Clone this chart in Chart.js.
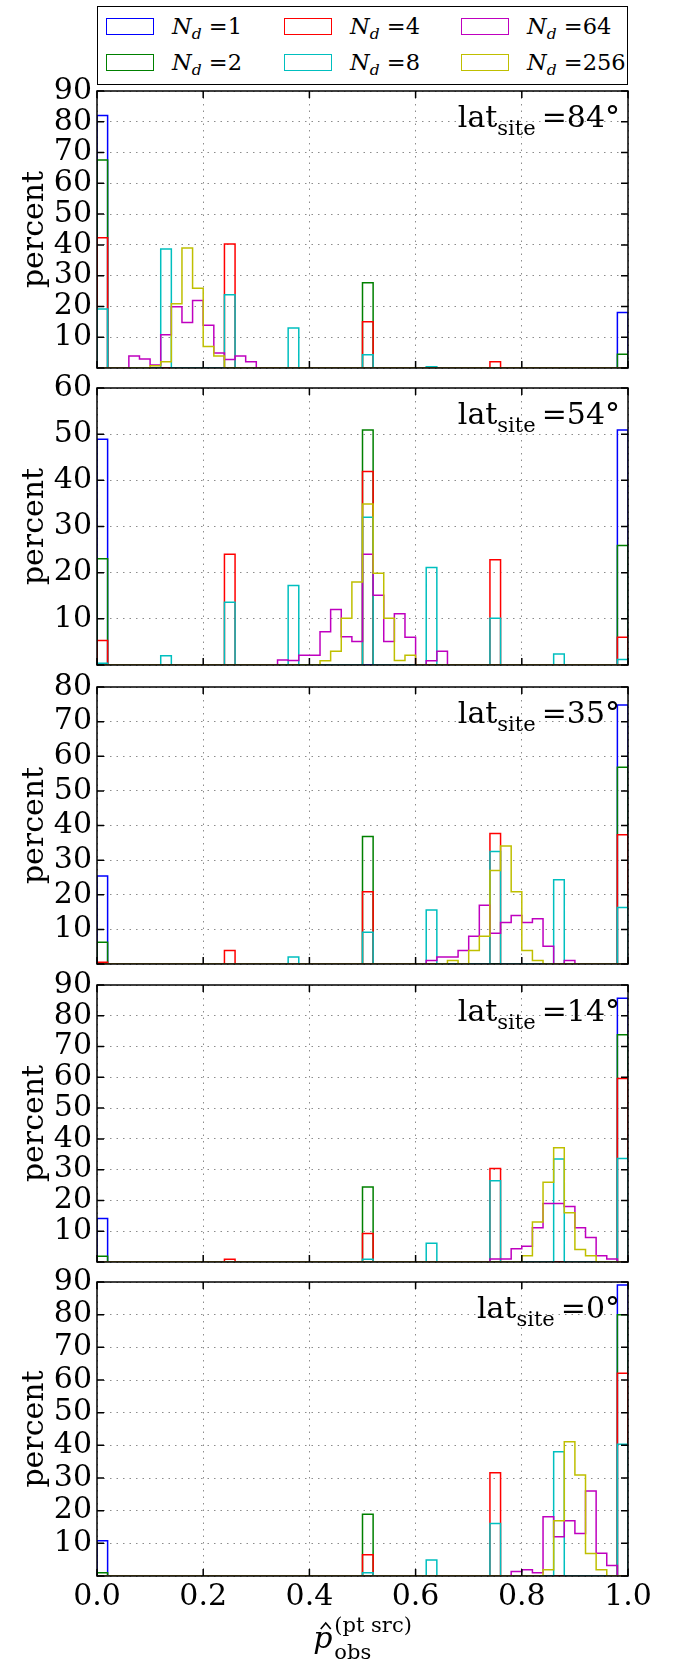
<!DOCTYPE html>
<html>
<head>
<meta charset="utf-8">
<title>p_obs histograms by site latitude</title>
<script src="https://cdn.jsdelivr.net/npm/chart.js@4.4.1/dist/chart.umd.min.js"></script>
<style>
  html, body { margin: 0; padding: 0; background: #fff; }
  body { position: relative; width: 684px; height: 1666px; overflow: hidden; font-family: 'DejaVu Serif', serif; color: #000; }
  canvas { position: absolute; left: 0; }
  #legend { position: absolute; left: 97px; top: 6px; width: 531px; height: 79px; border: 1.5px solid #000; box-sizing: border-box; }
  .swatch { position: absolute; width: 48px; height: 17px; border: 1.5px solid; box-sizing: border-box; }
  .item { position: absolute; font-size: 22.5px; line-height: 26px; white-space: nowrap; }
  .item sub { font-size: 15.5px; font-style: italic; line-height: 0; vertical-align: -5px; }
</style>
</head>
<body>
<div id="legend"></div>
<script>
    // histogram bins: 50 bins of width 0.02 on [0, 1]
    var binWidth = 0.02;
    var nBins = 50;

    var ndValues = [1, 2, 4, 8, 64, 256];
    var lineColors = ['#0000ff', '#008000', '#ff0000', '#00bfbf', '#bf00bf', '#bfbf00'];
    var latitudes = [84, 54, 35, 14, 0];
    var yMaxes = [90, 60, 80, 90, 90];

    // [bin left edge, percent] for the non-empty bins, one list per N_d
    var hist84 = [
        [[0.00, 82.0], [0.98, 18.0]],
        [[0.00, 67.6], [0.50, 27.7], [0.98, 4.5]],
        [[0.00, 42.3], [0.24, 40.3], [0.50, 15.0], [0.74, 2.0]],
        [[0.00, 19.2], [0.12, 38.7], [0.24, 23.8], [0.36, 13.0], [0.50, 4.3], [0.62, 0.4]],
        [[0.06, 3.9], [0.08, 2.9], [0.10, 1.0], [0.12, 10.8], [0.14, 19.9], [0.16, 14.8], [0.18, 21.9],
         [0.20, 13.9], [0.22, 4.9], [0.24, 2.8], [0.26, 3.9], [0.28, 2.0]],
        [[0.10, 0.7], [0.12, 2.0], [0.14, 20.9], [0.16, 39.0], [0.18, 25.9], [0.20, 7.0], [0.22, 3.9]]
    ];
    var hist54 = [
        [[0.00, 48.9], [0.98, 50.9]],
        [[0.00, 23.0], [0.50, 50.9], [0.98, 25.9]],
        [[0.00, 5.3], [0.24, 24.0], [0.50, 41.9], [0.74, 22.8], [0.98, 6.0]],
        [[0.00, 0.4], [0.12, 2.0], [0.24, 13.6], [0.36, 17.2], [0.50, 32.0], [0.62, 21.1], [0.74, 10.1],
         [0.86, 2.4], [0.98, 1.2]],
        [[0.34, 1.1], [0.36, 1.0], [0.38, 2.1], [0.40, 2.1], [0.42, 7.2], [0.44, 12.0], [0.46, 6.1],
         [0.48, 5.1], [0.50, 24.0], [0.52, 15.1], [0.54, 5.1], [0.56, 11.1], [0.58, 6.0], [0.62, 0.9],
         [0.64, 3.0]],
        [[0.42, 0.9], [0.44, 3.0], [0.46, 10.1], [0.48, 18.0], [0.50, 34.9], [0.52, 19.9], [0.54, 10.1],
         [0.56, 1.0], [0.58, 2.1]]
    ];
    var hist35 = [
        [[0.00, 25.4], [0.98, 74.8]],
        [[0.00, 6.3], [0.50, 36.8], [0.98, 56.8]],
        [[0.00, 0.5], [0.24, 3.9], [0.50, 20.9], [0.74, 37.7], [0.98, 37.3]],
        [[0.36, 2.0], [0.50, 9.2], [0.62, 15.6], [0.74, 32.5], [0.86, 24.3], [0.98, 16.3]],
        [[0.62, 1.0], [0.64, 2.0], [0.66, 2.0], [0.68, 3.9], [0.70, 8.0], [0.72, 17.0], [0.74, 8.9],
         [0.76, 12.0], [0.78, 14.0], [0.80, 12.0], [0.82, 13.1], [0.84, 5.1], [0.88, 1.0]],
        [[0.66, 1.0], [0.70, 3.9], [0.72, 8.0], [0.74, 27.0], [0.76, 34.1], [0.78, 20.9], [0.80, 3.9],
         [0.82, 1.0]]
    ];
    var hist14 = [
        [[0.00, 14.1], [0.98, 85.7]],
        [[0.00, 1.9], [0.50, 24.4], [0.98, 73.8]],
        [[0.24, 0.9], [0.50, 9.3], [0.74, 30.4], [0.98, 59.6]],
        [[0.50, 0.9], [0.62, 6.1], [0.74, 26.4], [0.86, 33.5], [0.98, 33.6]],
        [[0.74, 1.0], [0.76, 1.0], [0.78, 4.3], [0.80, 5.1], [0.82, 11.1], [0.84, 19.0], [0.86, 19.0],
         [0.88, 18.0], [0.90, 11.1], [0.92, 8.0], [0.94, 2.0], [0.96, 1.0]],
        [[0.80, 2.0], [0.82, 13.0], [0.84, 25.9], [0.86, 37.1], [0.88, 16.0], [0.90, 4.1], [0.92, 2.0]]
    ];
    var hist0 = [
        [[0.00, 10.8], [0.98, 89.1]],
        [[0.00, 1.0], [0.50, 18.9], [0.98, 80.0]],
        [[0.50, 6.5], [0.74, 31.6], [0.98, 62.1]],
        [[0.50, 1.0], [0.62, 4.9], [0.74, 16.1], [0.86, 38.0], [0.98, 40.3]],
        [[0.78, 1.4], [0.80, 1.9], [0.82, 1.0], [0.84, 18.1], [0.86, 12.0], [0.88, 16.9], [0.90, 13.0],
         [0.92, 26.0], [0.94, 7.0], [0.96, 3.2]],
        [[0.84, 1.9], [0.86, 16.9], [0.88, 41.1], [0.90, 30.9], [0.92, 6.9], [0.94, 1.9]]
    ];
    var panels = [hist84, hist54, hist35, hist14, hist0];

    // layout (page pixels)
    var panelTops = [91, 388, 687, 985, 1282];
    var panelHeight = 294;
    var padTop = 30;
    var serif = "'DejaVu Serif', serif";

    // legend, column by column like matplotlib
    var legendCols = [105, 283, 460];
    var legendRows = [25, 61];
    var legend = document.getElementById('legend');
    ndValues.forEach(function (nd, i) {
        var col = Math.floor(i / 2), row = i % 2;
        var sw = document.createElement('div');
        sw.className = 'swatch';
        sw.style.borderColor = lineColors[i];
        sw.style.left = (legendCols[col] - 97) + 'px';
        sw.style.top = (legendRows[row] - 8.5 - 6) + 'px';
        legend.appendChild(sw);
        var txt = document.createElement('div');
        txt.className = 'item';
        txt.innerHTML = '<i>N</i><sub>d</sub> =' + nd;
        txt.style.left = (legendCols[col] + 66 - 97) + 'px';
        txt.style.top = (legendRows[row] - 13 - 6) + 'px';
        legend.appendChild(txt);
    });

    function stepPoints(pairs) {
        var counts = [];
        for (var k = 0; k < nBins; k++) counts.push(0);
        pairs.forEach(function (p) { counts[Math.round(p[0] / binWidth)] = p[1]; });
        var pts = [{x: 0, y: 0}];
        counts.forEach(function (c, k) { pts.push({x: k * binWidth, y: c}); });
        pts.push({x: 1, y: 0});
        return pts;
    }

    // frame and inward ticks on all four sides
    var framePlugin = {
        id: 'frame',
        afterDatasetsDraw: function (chart) {
            var ctx = chart.ctx, a = chart.chartArea;
            var xs = chart.scales.x, ys = chart.scales.y;
            ctx.save();
            ctx.strokeStyle = '#000';
            ctx.lineWidth = 1.5;
            ctx.beginPath();
            ys.ticks.forEach(function (t) {
                var py = ys.getPixelForValue(t.value);
                ctx.moveTo(a.left, py); ctx.lineTo(a.left + 7, py);
                ctx.moveTo(a.right, py); ctx.lineTo(a.right - 7, py);
            });
            xs.ticks.forEach(function (t) {
                var px = xs.getPixelForValue(t.value);
                ctx.moveTo(px, a.bottom); ctx.lineTo(px, a.bottom - 7);
                ctx.moveTo(px, a.top); ctx.lineTo(px, a.top + 7);
            });
            ctx.stroke();
            ctx.strokeRect(a.left, a.top, a.right - a.left, a.bottom - a.top);
            ctx.restore();
        }
    };

    // "lat_site = NN°" in the upper right corner
    var latPlugin = {
        id: 'latLabel',
        afterDraw: function (chart, args, opts) {
            var ctx = chart.ctx, a = chart.chartArea;
            var big = '30px ' + serif, small = '21px ' + serif;
            var val = '=' + opts.lat + '\u00b0';
            ctx.save();
            ctx.fillStyle = '#000';
            ctx.textBaseline = 'alphabetic';
            ctx.textAlign = 'left';
            ctx.font = big;
            var wLat = ctx.measureText('lat').width, wVal = ctx.measureText(val).width;
            ctx.font = small;
            var wSite = ctx.measureText('site').width;
            var gap = 6;
            var x = a.right - 8 - (wLat + wSite + gap + wVal);
            var base = a.top + 36;
            ctx.font = big; ctx.fillText('lat', x, base); x += wLat;
            ctx.font = small; ctx.fillText('site', x, base + 8); x += wSite + gap;
            ctx.font = big; ctx.fillText(val, x, base);
            ctx.restore();
        }
    };

    // x axis title p-hat with (pt src) superscript and obs subscript
    var xTitlePlugin = {
        id: 'xTitle',
        afterDraw: function (chart, args, opts) {
            if (!opts.show) return;
            var ctx = chart.ctx, a = chart.chartArea;
            ctx.save();
            ctx.fillStyle = '#000';
            ctx.strokeStyle = '#000';
            ctx.textBaseline = 'alphabetic';
            ctx.font = 'italic 30px ' + serif;
            var wp = ctx.measureText('p').width;
            ctx.font = '21px ' + serif;
            var wSup = ctx.measureText('(pt src)').width;
            var x0 = (a.left + a.right) / 2 - (wp + 2 + wSup) / 2;
            var base = a.bottom + 72;
            ctx.font = 'italic 30px ' + serif;
            ctx.textAlign = 'left';
            ctx.fillText('p', x0, base);
            // hat accent
            var hx = x0 + wp / 2 + 3;
            ctx.lineWidth = 1.6;
            ctx.beginPath();
            ctx.moveTo(hx - 5, base - 19);
            ctx.lineTo(hx, base - 25);
            ctx.lineTo(hx + 5, base - 19);
            ctx.stroke();
            ctx.font = '21px ' + serif;
            ctx.fillText('(pt src)', x0 + wp + 2, base - 16);
            ctx.fillText('obs', x0 + wp + 2, base + 11);
            ctx.restore();
        }
    };

    panels.forEach(function (hist, i) {
        var last = i === panels.length - 1;
        var canvas = document.createElement('canvas');
        var top = panelTops[i] - padTop;
        canvas.width = 684;
        canvas.height = last ? 1666 - top : padTop + panelHeight + 6;
        canvas.style.top = top + 'px';
        document.body.appendChild(canvas);

        var tickFont = {family: serif, size: 30, lineHeight: 1.2};
        var config = {
            type: 'line',
            data: {
                datasets: ndValues.map(function (nd, s) {
                    return {
                        label: 'N_d = ' + nd,
                        data: stepPoints(hist[s]),
                        borderColor: lineColors[s],
                        borderWidth: 1.5,
                        pointRadius: 0,
                        fill: false,
                        stepped: true,
                        order: ndValues.length - s
                    };
                })
            },
            options: {
                responsive: false,
                animation: false,
                devicePixelRatio: 1,
                layout: {padding: {top: padTop, right: 56, bottom: last ? 0 : 6, left: 0}},
                plugins: {
                    legend: {display: false},
                    tooltip: {enabled: false},
                    latLabel: {lat: latitudes[i]},
                    xTitle: {show: last}
                },
                scales: {
                    x: {
                        type: 'linear',
                        min: 0,
                        max: 1,
                        ticks: {
                            display: last,
                            stepSize: 0.2,
                            autoSkip: false,
                            maxRotation: 0,
                            padding: 3,
                            color: '#000',
                            font: tickFont,
                            callback: function (v) { return v.toFixed(1); }
                        },
                        grid: {color: '#8c8c8c', lineWidth: 1, drawTicks: false},
                        border: {display: false, dash: [1.5, 5]},
                        afterFit: function (s) { s.height = last ? 90 : 0; }
                    },
                    y: {
                        min: 0,
                        max: yMaxes[i],
                        ticks: {
                            stepSize: 10,
                            autoSkip: false,
                            padding: 5,
                            color: '#000',
                            font: tickFont,
                            callback: function (v) { return v === 0 ? '' : v; }
                        },
                        grid: {color: '#8c8c8c', lineWidth: 1, drawTicks: false},
                        border: {display: false, dash: [1.5, 5]},
                        title: {
                            display: true,
                            text: 'percent',
                            color: '#000',
                            font: {family: serif, size: 30},
                            padding: {top: 17, bottom: 0}
                        },
                        afterFit: function (s) { s.width = 97; }
                    }
                }
            },
            plugins: [framePlugin, latPlugin, xTitlePlugin]
        };
        new Chart(canvas.getContext('2d'), config);
    });
</script>
</body>
</html>
